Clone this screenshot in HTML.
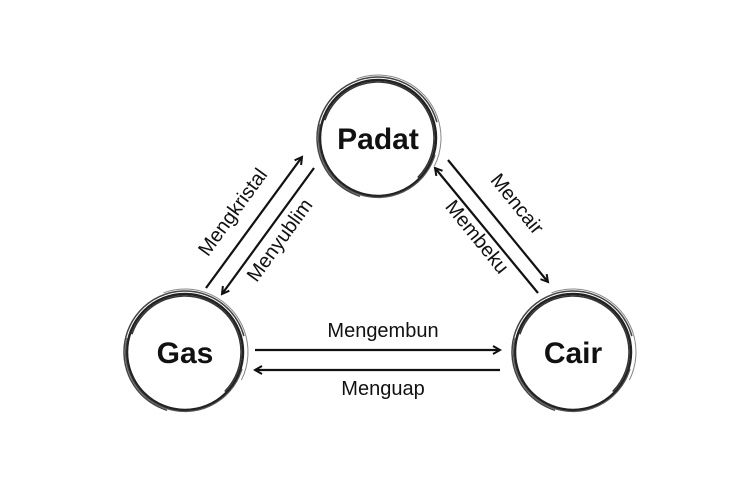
<!DOCTYPE html>
<html><head><meta charset="utf-8"><style>
html,body{margin:0;padding:0;background:#fff}
svg{display:block}
text{font-family:"Liberation Sans",sans-serif;fill:#111}
</style></head><body>
<svg width="750" height="500" viewBox="0 0 750 500">
<defs>
<marker id="ah" markerWidth="10" markerHeight="10" refX="8" refY="5" orient="auto" markerUnits="userSpaceOnUse">
<path d="M1,1 L8,5 L1,9" fill="none" stroke="#111" stroke-width="2"/>
</marker>
<g id="ring">
<circle r="58" fill="#fff" stroke="#222" stroke-width="2.5"/>
<circle r="61" fill="none" stroke="#444" stroke-width="1.5" stroke-dasharray="250 130" transform="rotate(110)"/>
<circle r="56" fill="none" stroke="#333" stroke-width="1.5" stroke-dasharray="200 150" transform="rotate(200)"/>
<circle r="63" fill="none" stroke="#888" stroke-width="1" stroke-dasharray="150 250" transform="rotate(250)"/>
<circle r="59.5" fill="none" stroke="#555" stroke-width="1.2" stroke-dasharray="180 190" transform="rotate(20)"/>
</g>
</defs>
<g>
<use href="#ring" x="378" y="138"/>
<text x="378" y="149" text-anchor="middle" font-size="30" font-weight="bold">Padat</text>
</g>
<g>
<use href="#ring" x="185" y="352"/>
<text x="185" y="363" text-anchor="middle" font-size="30" font-weight="bold">Gas</text>
</g>
<g>
<use href="#ring" x="573" y="352"/>
<text x="573" y="363" text-anchor="middle" font-size="30" font-weight="bold">Cair</text>
</g>
<g stroke="#111" stroke-width="2.2" fill="none">
<line x1="206" y1="288" x2="302" y2="157" marker-end="url(#ah)"/>
<line x1="314" y1="168" x2="222" y2="294" marker-end="url(#ah)"/>
<line x1="448" y1="160" x2="548" y2="282" marker-end="url(#ah)"/>
<line x1="538" y1="293" x2="435" y2="168" marker-end="url(#ah)"/>
<line x1="255" y1="350" x2="500" y2="350" marker-end="url(#ah)"/>
<line x1="500" y1="370" x2="255" y2="370" marker-end="url(#ah)"/>
</g>
<g font-size="20">
<text text-anchor="middle" transform="translate(238,216) rotate(-54)">Mengkristal</text>
<text text-anchor="middle" transform="translate(285,244) rotate(-54)">Menyublim</text>
<text text-anchor="middle" transform="translate(512,208) rotate(51)">Mencair</text>
<text text-anchor="middle" transform="translate(472,241) rotate(51)">Membeku</text>
<text x="383" y="337" text-anchor="middle">Mengembun</text>
<text x="383" y="395" text-anchor="middle">Menguap</text>
</g>
</svg>
</body></html>
